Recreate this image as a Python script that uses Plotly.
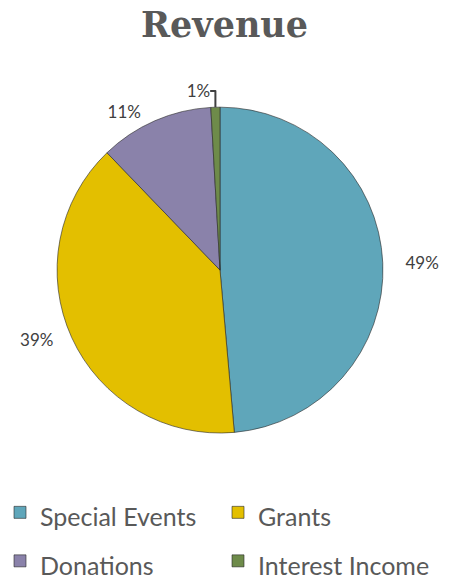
import plotly.graph_objects as go

categories = ["Special Events", "Grants", "Donations", "Interest Income"]
values = [48.6, 39.2, 11.3, 0.9]
colors = ["#5FA6BA", "#E3BF00", "#8A82AA", "#6E8B4A"]

NB = "\u00a0"
templates = [NB * 4 + "%{percent:.0%}", "%{percent:.0%}" + NB * 3, "%{percent:.0%}" + NB * 2, "%{percent:.0%}"]
legend_labels = ["<span style='font-size:25px'>" + c + "</span>" for c in categories]

fig = go.Figure(go.Pie(
    labels=legend_labels,
    values=values,
    sort=False,
    direction="clockwise",
    rotation=0,
    marker=dict(colors=colors, line=dict(color="rgba(40,40,40,0.6)", width=1)),
    textposition="outside",
    texttemplate=templates,
    textfont=dict(family="Lato", size=17, color="#404040"),
    domain=dict(x=[0.127, 0.853], y=[0.114, 0.888]),
    showlegend=True,
    hovertemplate="%{label}: %{percent:.0%}<extra></extra>",
))

fig.update_layout(
    width=449, height=581,
    paper_bgcolor="white",
    margin=dict(l=0, r=0, t=60, b=100, autoexpand=False),
    title=dict(text="<b>Revenue</b>", x=0.5, xanchor="center", y=0.957, yanchor="middle",
               font=dict(family="DejaVu Serif", size=35, color="#595959")),
    legend=dict(orientation="h", x=0.0, xanchor="left", y=-0.005, yanchor="top",
                entrywidth=173, entrywidthmode="pixels",
                font=dict(family="Lato", size=35, color="#595959"),
                traceorder="normal"),
)

fig.write_html("out.html")
